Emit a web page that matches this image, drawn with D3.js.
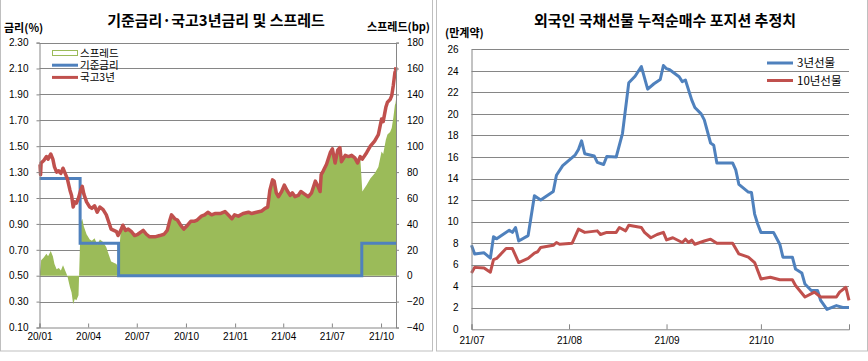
<!DOCTYPE html>
<html>
<head>
<meta charset="utf-8">
<script src="https://cdn.jsdelivr.net/npm/d3@7"></script>
<style>
    body { margin: 0; background: #fff; }
    svg text { font-family: "Noto Sans CJK KR", "Noto Sans", sans-serif; fill: #000; }
    .num { font-family: "Liberation Sans", Arial, sans-serif; font-size: 10px; }
</style>
</head>
<body>
<div id="chart"></div>
<script>
// ---- left chart data: 기준금리 / 국고3년 (%) ----
let baseRate = [
    ["2020-01-01", 1.25], ["2020-03-17", 0.75], ["2020-05-28", 0.50],
    ["2021-08-26", 0.75], ["2021-10-29", 0.75]
];
let treasury3y = [
    ["2020-01-02",1.36],["2020-01-03",1.28],["2020-01-04",1.37],["2020-01-09",1.39],["2020-01-14",1.42],
    ["2020-01-17",1.40],["2020-01-22",1.44],["2020-01-26",1.40],["2020-01-29",1.34],["2020-02-02",1.30],
    ["2020-02-06",1.31],["2020-02-10",1.29],["2020-02-14",1.33],["2020-02-18",1.29],["2020-02-22",1.25],
    ["2020-02-27",1.16],["2020-03-01",1.12],["2020-03-04",1.03],["2020-03-07",1.07],["2020-03-10",1.06],
    ["2020-03-14",1.10],["2020-03-18",1.16],["2020-03-21",1.19],["2020-03-24",1.13],["2020-03-29",1.07],
    ["2020-04-04",1.03],["2020-04-08",1.02],["2020-04-13",1.04],["2020-04-18",0.99],["2020-04-23",1.03],
    ["2020-04-29",1.01],["2020-05-05",0.97],["2020-05-09",0.92],["2020-05-14",0.86],["2020-05-19",0.85],
    ["2020-05-24",0.84],["2020-05-27",0.81],["2020-06-01",0.85],["2020-06-05",0.89],["2020-06-10",0.85],
    ["2020-06-15",0.86],["2020-06-21",0.84],["2020-06-27",0.81],["2020-07-03",0.82],["2020-07-13",0.85],
    ["2020-07-19",0.82],["2020-07-25",0.80],["2020-08-04",0.80],["2020-08-13",0.81],["2020-08-21",0.82],
    ["2020-08-27",0.85],["2020-09-01",0.93],["2020-09-04",0.97],["2020-09-10",0.94],["2020-09-15",0.93],
    ["2020-09-21",0.89],["2020-09-27",0.86],["2020-10-04",0.89],["2020-10-10",0.92],["2020-10-16",0.92],
    ["2020-10-22",0.93],["2020-10-30",0.96],["2020-11-05",0.97],["2020-11-11",0.99],["2020-11-18",0.97],
    ["2020-11-24",0.98],["2020-12-04",0.98],["2020-12-13",0.995],["2020-12-19",0.97],["2020-12-26",0.94],
    ["2020-12-31",0.97],["2021-01-07",0.96],["2021-01-16",0.98],["2021-01-26",0.99],["2021-02-01",0.98],
    ["2021-02-10",0.99],["2021-02-20",1.00],["2021-02-26",1.02],["2021-03-03",1.03],["2021-03-07",1.16],
    ["2021-03-12",1.24],["2021-03-15",1.23],["2021-03-19",1.14],["2021-03-23",1.11],["2021-03-29",1.15],
    ["2021-04-03",1.20],["2021-04-08",1.16],["2021-04-14",1.12],["2021-04-18",1.14],["2021-04-23",1.11],
    ["2021-04-29",1.12],["2021-05-04",1.15],["2021-05-11",1.13],["2021-05-18",1.11],["2021-05-24",1.14],
    ["2021-05-31",1.23],["2021-06-05",1.19],["2021-06-09",1.15],["2021-06-11",1.28],["2021-06-15",1.31],
    ["2021-06-21",1.36],["2021-06-28",1.45],["2021-07-02",1.48],["2021-07-07",1.37],["2021-07-12",1.47],
    ["2021-07-16",1.49],["2021-07-19",1.38],["2021-07-26",1.43],["2021-08-01",1.42],["2021-08-07",1.43],
    ["2021-08-13",1.41],["2021-08-18",1.37],["2021-08-23",1.42],["2021-08-27",1.40],["2021-09-04",1.45],
    ["2021-09-11",1.50],["2021-09-19",1.54],["2021-09-26",1.59],["2021-10-02",1.71],["2021-10-05",1.69],
    ["2021-10-10",1.80],["2021-10-13",1.84],["2021-10-18",1.86],["2021-10-21",1.89],["2021-10-24",1.97],
    ["2021-10-27",2.07],["2021-10-28",2.08],["2021-10-29",2.11]
];
let rateTicks = [0.10, 0.30, 0.50, 0.70, 0.90, 1.10, 1.30, 1.50, 1.70, 1.90, 2.10, 2.30];
let spreadTicks = [-40, -20, 0, 20, 40, 60, 80, 100, 120, 140, 160, 180];
let leftLegend = ["스프레드", "기준금리", "국고3년"];

// ---- right chart data: 외국인 누적순매수 (만계약) ----
let futures3y = [
    ["2021-07-01",7.8],["2021-07-02",7.0],["2021-07-05",7.1],["2021-07-07",6.6],["2021-07-08",8.6],
    ["2021-07-09",8.4],["2021-07-13",9.2],["2021-07-14",9.0],["2021-07-15",9.45],["2021-07-16",8.2],
    ["2021-07-19",8.7],["2021-07-21",12.4],["2021-07-23",12.0],["2021-07-27",12.8],["2021-07-28",14.3],
    ["2021-07-30",15.2],["2021-08-03",16.2],["2021-08-04",16.7],["2021-08-05",17.5],["2021-08-06",16.3],
    ["2021-08-09",16.1],["2021-08-10",15.5],["2021-08-12",15.3],["2021-08-13",16.05],["2021-08-16",16.0],
    ["2021-08-18",18.2],["2021-08-20",22.9],["2021-08-22",23.5],["2021-08-24",24.4],["2021-08-26",22.3],
    ["2021-08-28",22.8],["2021-08-30",23.2],["2021-08-31",24.5],["2021-09-01",24.2],["2021-09-02",24.1],
    ["2021-09-05",23.45],["2021-09-06",23.0],["2021-09-07",23.15],["2021-09-09",21.3],["2021-09-10",20.6],
    ["2021-09-12",20.0],["2021-09-13",19.45],["2021-09-15",17.3],["2021-09-16",17.1],["2021-09-17",15.45],
    ["2021-09-22",15.45],["2021-09-23",14.8],["2021-09-24",13.45],["2021-09-27",12.74],["2021-09-28",12.7],
    ["2021-09-29",10.7],["2021-09-30",9.75],["2021-10-01",9.0],["2021-10-05",9.0],["2021-10-07",7.9],
    ["2021-10-08",6.7],["2021-10-11",6.7],["2021-10-12",5.6],["2021-10-14",5.23],["2021-10-15",4.2],
    ["2021-10-17",3.6],["2021-10-19",3.6],["2021-10-20",2.68],["2021-10-22",1.85],["2021-10-25",2.2],
    ["2021-10-27",2.03],["2021-10-29",2.03]
];
let futures10y = [
    ["2021-07-01",5.23],["2021-07-02",5.75],["2021-07-05",5.7],["2021-07-07",5.3],["2021-07-08",6.46],
    ["2021-07-09",6.58],["2021-07-12",7.5],["2021-07-14",7.5],["2021-07-16",6.2],["2021-07-19",6.58],
    ["2021-07-21",7.08],["2021-07-22",7.2],["2021-07-23",7.6],["2021-07-27",7.8],["2021-07-28",8.06],
    ["2021-07-29",7.9],["2021-08-02",8.0],["2021-08-04",9.3],["2021-08-06",9.0],["2021-08-10",9.14],
    ["2021-08-11",8.8],["2021-08-13",9.0],["2021-08-16",9.0],["2021-08-17",9.45],["2021-08-19",9.14],
    ["2021-08-20",9.66],["2021-08-24",9.45],["2021-08-25",9.0],["2021-08-27",8.5],["2021-08-29",8.8],
    ["2021-08-31",9.0],["2021-09-01",8.3],["2021-09-03",8.5],["2021-09-06",8.06],["2021-09-07",8.37],
    ["2021-09-08",8.06],["2021-09-09",8.28],["2021-09-10",7.9],["2021-09-13",8.2],["2021-09-15",8.37],
    ["2021-09-17",8.0],["2021-09-22",8.0],["2021-09-24",7.0],["2021-09-27",6.7],["2021-09-29",6.2],
    ["2021-10-01",4.68],["2021-10-04",4.83],["2021-10-07",4.6],["2021-10-11",4.6],["2021-10-12",4.06],
    ["2021-10-15",3.0],["2021-10-18",3.45],["2021-10-20",3.0],["2021-10-25",3.0],["2021-10-26",3.45],
    ["2021-10-28",3.9],["2021-10-29",2.68]
];
let positionTicks = [0, 2, 4, 6, 8, 10, 12, 14, 16, 18, 20, 22, 24, 26];
let rightLegend = ["3년선물", "10년선물"];

let BLUE = "#4F81BD", RED = "#C0504D", GREEN = "#9BBB59", GRID = "#868686";
let parse = d3.timeParse("%Y-%m-%d");
let fmtMonth = d3.timeFormat("%y/%m");

let svg = d3.select("#chart").append("svg")
    .attr("width", 868).attr("height", 361);

// panel frames
svg.append("rect").attr("x", 0.5).attr("y", -1).attr("width", 432).attr("height", 352)
    .attr("fill", "none").attr("stroke", "#bfbfbf");
svg.append("rect").attr("x", 436.5).attr("y", -1).attr("width", 431).attr("height", 352)
    .attr("fill", "none").attr("stroke", "#bfbfbf");

function yGrid(g, scale, ticks, x0, x1) {
    g.selectAll("line").data(ticks).join("line")
        .attr("x1", x0).attr("x2", x1)
        .attr("y1", d => Math.round(scale(d)) + 0.5)
        .attr("y2", d => Math.round(scale(d)) + 0.5)
        .attr("stroke", GRID);
}

// ================= left chart =================
{
    let left = 39.5, right = 396, top = 42.6, bottom = 327.5;
    let x = d3.scaleTime().domain([parse("2020-01-01"), parse("2021-10-29")]).range([left, right]);
    let yRate = d3.scaleLinear().domain([0.1, 2.3]).range([bottom, top]);
    let ySpread = d3.scaleLinear().domain([-40, 180]).range([bottom, top]);

    let rates = treasury3y.map(([d, v]) => ({date: parse(d), v: v}));
    let base = baseRate.map(([d, v]) => ({date: parse(d), v: v}));
    let baseAt = date => {
        let r = base[0].v;
        base.forEach(b => { if (b.date <= date) r = b.v; });
        return r;
    };
    // spread = 국고3년 - 기준금리, in bp
    let spread = rates.map(r => ({date: r.date, v: Math.round((r.v - baseAt(r.date)) * 100)}));

    svg.append("g").call(yGrid, yRate, rateTicks.slice(1), left, right);

    svg.append("path").datum(spread)
        .attr("fill", GREEN)
        .attr("d", d3.area().x(d => x(d.date)).y0(ySpread(0)).y1(d => ySpread(d.v)));

    svg.append("path").datum(base)
        .attr("fill", "none").attr("stroke", BLUE).attr("stroke-width", 3)
        .attr("d", d3.line().curve(d3.curveStepAfter).x(d => x(d.date)).y(d => yRate(d.v)));

    svg.append("path").datum(rates)
        .attr("fill", "none").attr("stroke", RED).attr("stroke-width", 3.5).attr("stroke-linejoin", "round")
        .attr("d", d3.line().x(d => x(d.date)).y(d => yRate(d.v)));

    // axes
    let yl = svg.append("g").attr("transform", `translate(${left},0)`)
        .call(d3.axisLeft(yRate).tickValues(rateTicks).tickFormat(d3.format(".2f")).tickSize(3).tickPadding(8));
    let yr = svg.append("g").attr("transform", `translate(${right},0)`)
        .call(d3.axisRight(ySpread).tickValues(spreadTicks).tickSize(3).tickPadding(8));
    let xa = svg.append("g").attr("transform", `translate(0,${bottom})`)
        .call(d3.axisBottom(x).ticks(d3.timeMonth.every(3)).tickFormat(fmtMonth).tickSize(-4).tickPadding(5));
    [yl, yr, xa].forEach(a => {
        a.select(".domain").attr("stroke", GRID);
        a.selectAll(".tick line").attr("stroke", GRID);
        a.selectAll("text").attr("class", "num");
    });

    svg.append("text").attr("x", 216).attr("y", 26).attr("text-anchor", "middle")
        .attr("font-size", 15).attr("font-weight", "bold").text("기준금리·국고3년금리 및 스프레드");
    svg.append("text").attr("x", 4).attr("y", 32).attr("font-size", 11).attr("font-weight", "bold").text("금리(%)");
    svg.append("text").attr("x", 430).attr("y", 31).attr("text-anchor", "end")
        .attr("font-size", 11).attr("font-weight", "bold").text("스프레드(bp)");

    // legend
    let lg = svg.append("g").attr("transform", "translate(52,53)");
    lg.append("rect").attr("x", 0.5).attr("y", -2.5).attr("width", 25).attr("height", 5)
        .attr("fill", "#fff").attr("stroke", GREEN);
    lg.append("line").attr("x1", 0).attr("x2", 26).attr("y1", 12.2).attr("y2", 12.2)
        .attr("stroke", BLUE).attr("stroke-width", 3);
    lg.append("line").attr("x1", 0).attr("x2", 26).attr("y1", 24.4).attr("y2", 24.4)
        .attr("stroke", RED).attr("stroke-width", 3);
    lg.selectAll("text").data(leftLegend).join("text")
        .attr("x", 28).attr("y", (d, i) => i * 12.2 + 4)
        .attr("font-size", 10.5).text(d => d);
}

// ================= right chart =================
{
    let left = 471.5, right = 849, top = 49.3, bottom = 329.3;
    let x = d3.scaleTime().domain([parse("2021-07-01"), parse("2021-10-29")]).range([left, right]);
    let y = d3.scaleLinear().domain([0, 26]).range([bottom, top]);

    svg.append("g").call(yGrid, y, positionTicks.slice(1), left, right);

    let line = d3.line().x(d => x(parse(d[0]))).y(d => y(d[1]));
    [[futures3y, BLUE], [futures10y, RED]].forEach(([data, color]) => {
        svg.append("path").datum(data)
            .attr("fill", "none").attr("stroke", color).attr("stroke-width", 3)
            .attr("stroke-linejoin", "round").attr("d", line);
    });

    let ya = svg.append("g").attr("transform", `translate(${left},0)`)
        .call(d3.axisLeft(y).tickValues(positionTicks).tickSize(0).tickPadding(13));
    let xa = svg.append("g").attr("transform", `translate(0,${bottom})`)
        .call(d3.axisBottom(x).ticks(d3.timeMonth.every(1)).tickFormat(fmtMonth).tickSize(-5).tickPadding(8));
    [ya, xa].forEach(a => {
        a.select(".domain").attr("stroke", GRID);
        a.selectAll(".tick line").attr("stroke", GRID);
        a.selectAll("text").attr("class", "num");
    });

    svg.append("text").attr("x", 665).attr("y", 26).attr("text-anchor", "middle")
        .attr("font-size", 15).attr("font-weight", "bold").text("외국인 국채선물 누적순매수 포지션 추정치");
    svg.append("text").attr("x", 445).attr("y", 37).attr("font-size", 11).attr("font-weight", "bold").text("(만계약)");

    let lg = svg.append("g").attr("transform", "translate(767,63)");
    lg.selectAll("line").data([BLUE, RED]).join("line")
        .attr("x1", 0).attr("x2", 26).attr("y1", (d, i) => i * 17.5).attr("y2", (d, i) => i * 17.5)
        .attr("stroke", d => d).attr("stroke-width", 3);
    lg.selectAll("text").data(rightLegend).join("text")
        .attr("x", 30).attr("y", (d, i) => i * 17.5 + 4)
        .attr("font-size", 11.5).text(d => d);
}
</script>
</body>
</html>
